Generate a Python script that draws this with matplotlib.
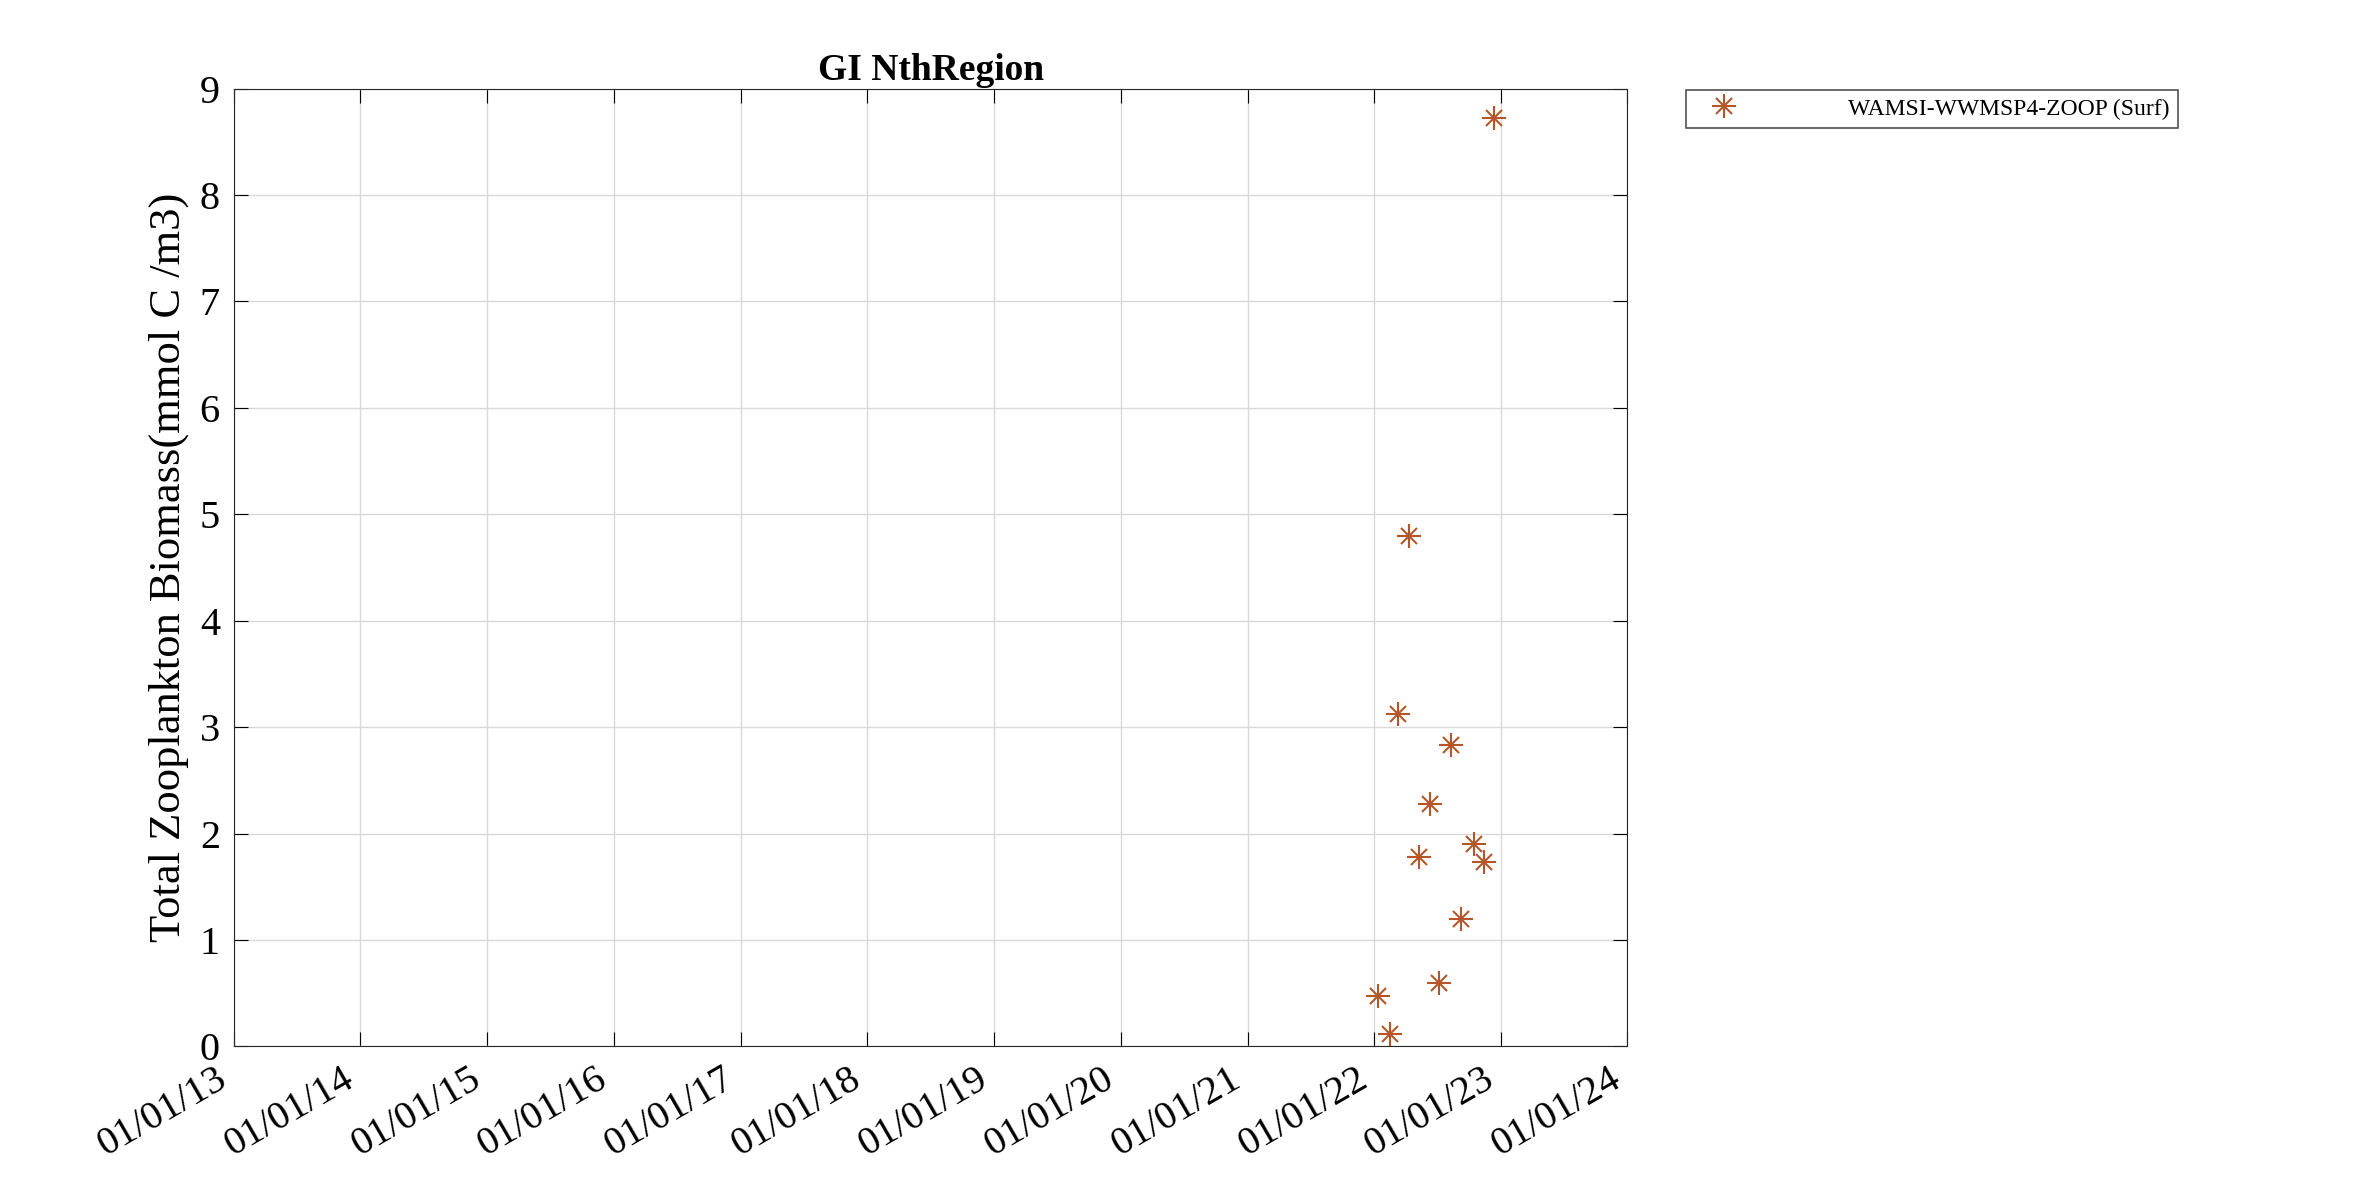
import matplotlib
matplotlib.use("Agg")
import matplotlib.pyplot as plt
import matplotlib.dates as mdates
from matplotlib.lines import Line2D
import numpy as np

plt.rcParams["font.family"] = ["Liberation Serif", "DejaVu Serif"]

dates = np.array(["2022-01-12", "2022-02-15", "2022-03-10", "2022-04-12",
                  "2022-05-10", "2022-06-10", "2022-07-08", "2022-08-10",
                  "2022-09-09", "2022-10-15", "2022-11-13", "2022-12-13"],
                 dtype="datetime64[D]")
biomass = [0.47, 0.12, 3.12, 4.80, 1.78, 2.28, 0.60, 2.83, 1.20, 1.90, 1.73, 8.72]
tick_years = list(range(2013, 2025))

COLOR = "#B5562A"
fig = plt.figure(figsize=(23.62, 11.81), dpi=100, facecolor="white")
ax = fig.add_axes([0.099, 0.114, 0.59, 0.811])

x = dates.astype("O")
# MATLAB-style thin asterisk: plus + cross overlaid
ax.plot(x, biomass, linestyle="none", marker="+", markersize=17,
        markeredgewidth=1.5, color=COLOR)
ax.plot(x, biomass, linestyle="none", marker="x", markersize=12,
        markeredgewidth=1.5, color=COLOR)

ax.set_xlim(np.datetime64("2013-01-01").astype("O"), np.datetime64("2024-01-01").astype("O"))
ax.set_ylim(0, 9)
ax.set_xticks([np.datetime64(f"{y}-01-01").astype("O") for y in tick_years])
ax.xaxis.set_major_formatter(mdates.DateFormatter("%d/%m/%y"))
ax.set_yticks(range(0, 10))
ax.tick_params(labelsize=29, direction="in", length=10, top=True, right=True, pad=10)
plt.setp(ax.get_xticklabels(), rotation=30, ha="right")
ax.grid(True, color="#d9d9d9", linewidth=1)
ax.set_axisbelow(True)
for sp in ax.spines.values():
    sp.set_color("#262626")

ax.set_title("GI NthRegion", fontsize=27, fontweight="bold", pad=6)
ax.set_ylabel("Total Zooplankton Biomass(mmol C /m3)", fontsize=32, labelpad=8)

handle = (Line2D([], [], linestyle="none", marker="+", markersize=17, markeredgewidth=1.5, color=COLOR),
          Line2D([], [], linestyle="none", marker="x", markersize=12, markeredgewidth=1.5, color=COLOR))
leg = fig.legend([handle], ["WAMSI-WWMSP4-ZOOP (Surf)"], loc="upper left",
                 bbox_to_anchor=(0.714, 0.924), fontsize=17, frameon=True,
                 fancybox=False, edgecolor="#262626", borderpad=0.35,
                 handletextpad=4.0, handlelength=2.5, borderaxespad=0)
leg.get_frame().set_linewidth(1.2)

fig.savefig("out.png", dpi=100, facecolor="white")
